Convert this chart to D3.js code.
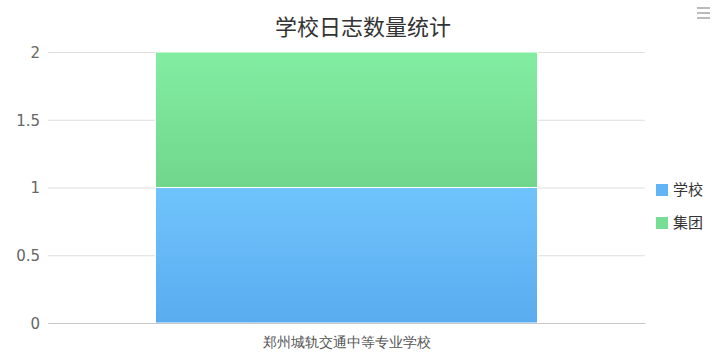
<!DOCTYPE html>
<html>
<head>
<meta charset="utf-8">
<script src="https://cdn.jsdelivr.net/npm/d3@7"></script>
<style>
  body { margin: 0; background: #fff; }
  svg { font-family: "Microsoft YaHei", "Noto Sans CJK SC", sans-serif; }
</style>
</head>
<body>
<svg id="grafico"></svg>
<script>
const categorias = ['郑州城轨交通中等专业学校'];
const series = ['学校', '集团'];
const valoresEscola = [1];
const valoresGrupo = [1];
const ticksY = [0, 0.5, 1, 1.5, 2];

const largura = 723, altura = 359;
const margem = { esquerda: 48, direita: 78, superior: 52, inferior: 36 };
const larguraPlotagem = largura - margem.esquerda - margem.direita;
const alturaPlotagem = altura - margem.superior - margem.inferior;

const svg = d3.select('#grafico').attr('width', largura).attr('height', altura);

const defs = svg.append('defs');
const gradientes = [
  { id: 'grad0', topo: '#70c4fc', base: '#59acef' },
  { id: 'grad1', topo: '#82eea2', base: '#70d68b' }
];
gradientes.forEach(g => {
  const lg = defs.append('linearGradient').attr('id', g.id)
    .attr('x1', 0).attr('y1', 0).attr('x2', 0).attr('y2', 1);
  lg.append('stop').attr('offset', '0%').attr('stop-color', g.topo);
  lg.append('stop').attr('offset', '100%').attr('stop-color', g.base);
});
const coresLegenda = ['#62b4f4', '#76df95'];

svg.append('text')
  .attr('x', 363).attr('y', 35)
  .attr('text-anchor', 'middle')
  .style('font-size', '22px')
  .attr('fill', '#333')
  .text('学校日志数量统计');

// menu icon
[8, 13, 18].forEach(y => {
  svg.append('line').attr('x1', 697).attr('x2', 710).attr('y1', y).attr('y2', y)
    .attr('stroke', '#bbb').attr('stroke-width', 2);
});

const plotagem = svg.append('g').attr('transform', `translate(${margem.esquerda}, ${margem.superior})`);

const x = d3.scaleBand().domain(categorias).range([0, larguraPlotagem]).paddingInner(0.36).paddingOuter(0.18);
const y = d3.scaleLinear().domain([0, 2]).range([alturaPlotagem, 0]);

const grade = d3.axisRight(y).tickValues(ticksY).tickSize(larguraPlotagem).tickFormat('');
plotagem.append('g').attr('id', 'grade').call(grade)
  .call(g => g.select('.domain').remove())
  .call(g => g.selectAll('line').attr('stroke', '#dedede'));

const eixoY = d3.axisLeft(y).tickValues(ticksY).tickSize(0).tickPadding(8).tickFormat(d3.format('~g'));
plotagem.append('g').attr('id', 'eixoY').call(eixoY)
  .call(g => g.select('.domain').remove())
  .call(g => g.selectAll('text').attr('fill', '#666').style('font-size', '15px')
    .style('font-family', 'Verdana, "DejaVu Sans", sans-serif').attr('dy', '0.35em'));

const dados = categorias.map((c, i) => ({ chave: c, '学校': valoresEscola[i], '集团': valoresGrupo[i] }));
const pilha = d3.stack().keys(series)(dados);

plotagem.selectAll('.serie')
  .data(pilha)
  .enter()
  .append('g')
  .classed('serie', true)
  .attr('fill', (d, i) => `url(#grad${i})`)
  .selectAll('rect')
  .data(d => d)
  .enter()
  .append('rect')
  .attr('x', d => x(d.data.chave))
  .attr('y', d => y(d[1]))
  .attr('width', x.bandwidth())
  .attr('height', d => y(d[0]) - y(d[1]))
  .attr('stroke', '#fff')
  .attr('stroke-width', 1);

const eixoX = d3.axisBottom(x).tickSize(0).tickPadding(14);
plotagem.append('g')
  .attr('transform', 'translate(0, ' + alturaPlotagem + ')')
  .attr('id', 'eixoX')
  .call(eixoX)
  .call(g => g.select('.domain').attr('stroke', '#c8c8c8'))
  .call(g => g.selectAll('text').attr('fill', '#555').style('font-size', '14px'));

const legenda = svg.append('g').attr('transform', 'translate(656, 184)');
series.forEach((s, i) => {
  const item = legenda.append('g').attr('transform', `translate(0, ${i * 33})`);
  item.append('rect').attr('width', 12).attr('height', 12).attr('fill', coresLegenda[i]);
  item.append('text').attr('x', 17).attr('y', 11).style('font-size', '15px').attr('fill', '#333').text(s);
});
</script>
</body>
</html>
